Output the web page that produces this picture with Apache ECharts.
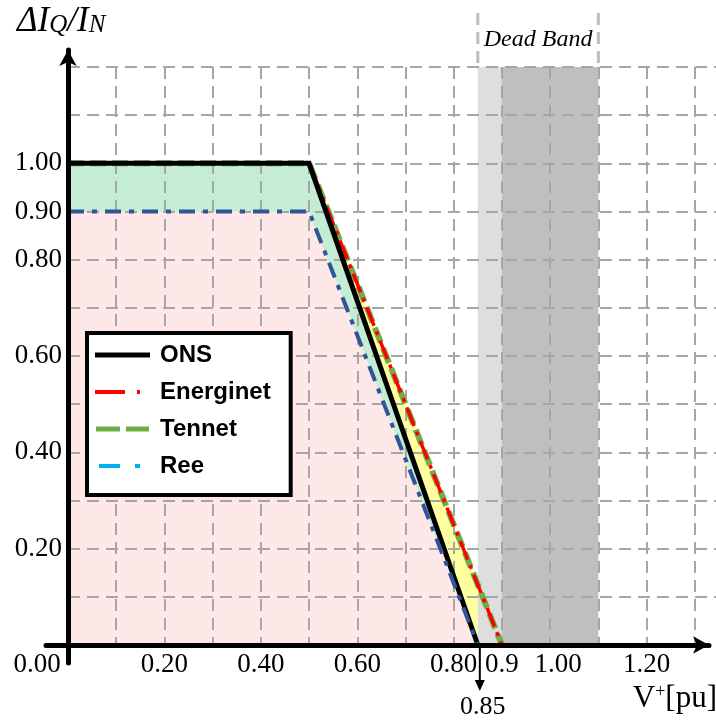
<!DOCTYPE html>
<html><head><meta charset="utf-8">
<script src="https://cdn.jsdelivr.net/npm/echarts@6/dist/echarts.min.js"></script>
<style>html,body{margin:0;padding:0;background:#fff}#c{width:716px;height:721px}</style>
</head><body><div id="c"></div>
<script>
// ---- data ----
const onsCurve = [[0, 1.0], [0.5, 1.0], [0.85, 0]];
const energinetCurve = [[0, 1.0], [0.5, 1.0], [0.9, 0]];
const tennetCurve = [[0, 1.0], [0.5, 1.0], [0.9, 0]];
const reeCurve = [[0, 0.9], [0.5, 0.9], [0.85, 0]];
const lightBand = [0.85, 0.9];
const darkBand = [0.9, 1.1];
const deadBand = [0.85, 1.1];
const markerValue = [0.85];
const xTickLabels = [0, 0.2, 0.4, 0.6, 0.8, 0.9, 1.0, 1.2];
const yTickLabels = [0.2, 0.4, 0.6, 0.8, 0.9, 1.0];
const seriesNames = ['ONS', 'Energinet', 'Tennet', 'Ree'];
const yTop = 1.2;

const serif = '"Liberation Serif", "Times New Roman", serif';
const sans = '"Liberation Sans", Arial, sans-serif';
const gridLine = { show: true, showMaxLine: false, lineStyle: { color: '#a6a6a6', width: 2, type: [12, 7] } };

// legend icon shapes (anchored to a 60x5 box)
const anchor = ' M0,0h0.01v0.01z M60,5h-0.01v-0.01z';
const icons = {
  ONS: 'path://M0,0h55v5h-55z' + anchor,
  Energinet: 'path://M0,0.5h30v4h-30z M42,0.5h3v4h-3z' + anchor,
  Tennet: 'path://M1,0h24v5h-24z M31,0h23v5h-23z' + anchor,
  Ree: 'path://M4,0.5h21v4h-21z M40,0.5h5v4h-5z' + anchor
};

const chart = echarts.init(document.getElementById('c'), null, { renderer: 'canvas' });

function xFmt(v) {
  if (Math.abs(v) < 1e-9) return '{l|0.00}';
  if (Math.abs(v - 0.9) < 1e-9) return '0.9';
  if (Math.abs(v - 1.0) < 1e-9) return '{r|1.00}';
  return v.toFixed(2);
}

const option = {
  animation: false,
  backgroundColor: '#fff',
  grid: [
    { left: 68, top: 67, right: 0, bottom: 76 },
    { left: 46, top: 50, right: 7, bottom: 58 }
  ],
  xAxis: [
    {
      gridIndex: 0, type: 'value', min: 0, max: 1.344, interval: 0.1, z: 3,
      axisLine: { show: false }, axisTick: { show: false },
      splitLine: gridLine,
      axisLabel: {
        customValues: xTickLabels, color: '#000', fontFamily: serif, fontSize: 27, margin: 6,
        formatter: xFmt,
        rich: {
          l: { fontFamily: serif, fontSize: 27, color: '#000', padding: [0, 62, 0, 0] },
          r: { fontFamily: serif, fontSize: 27, color: '#000', padding: [0, 0, 0, 16] }
        }
      }
    },
    {
      gridIndex: 1, type: 'value', min: -0.0456, max: 1.33, z: 6,
      axisLine: { show: true, onZero: true, lineStyle: { color: '#000', width: 5 }, symbol: ['none', 'arrow'], symbolSize: [13, 16] },
      axisTick: { show: false }, axisLabel: { show: false }, splitLine: { show: false }
    }
  ],
  yAxis: [
    {
      gridIndex: 0, type: 'value', min: 0, max: yTop, interval: 0.1, z: 3,
      axisLine: { show: false }, axisTick: { show: false },
      splitLine: Object.assign({}, gridLine, { showMaxLine: true, showMinLine: false }),
      axisLabel: {
        customValues: yTickLabels, color: '#000', fontFamily: serif, fontSize: 27, margin: 6,
        formatter: v => v.toFixed(2)
      }
    },
    {
      gridIndex: 1, type: 'value', min: -0.0373, max: 1.234, z: 6,
      axisLine: { show: true, onZero: true, lineStyle: { color: '#000', width: 5 }, symbol: ['none', 'arrow'], symbolSize: [13, 16] },
      axisTick: { show: false }, axisLabel: { show: false }, splitLine: { show: false }
    }
  ],
  legend: {
    orient: 'vertical', left: 87, top: 333,
    data: seriesNames.map(n => n === 'Ree'
      ? { name: n, icon: icons[n], itemStyle: { color: '#00b0f0' } }
      : { name: n, icon: icons[n] }),
    itemWidth: 60, itemHeight: 5, itemGap: 13,
    backgroundColor: '#fff', borderColor: '#000', borderWidth: 4, borderRadius: 0,
    padding: [10, 20, 17, 8],
    selectedMode: false,
    textStyle: { fontFamily: sans, fontWeight: 'bold', fontSize: 24, color: '#000' }
  },
  graphic: [
    {
      type: 'text', left: 17, top: 4,
      style: {
        text: '{i|ΔI}{s|Q}{i|/I}{s|N}',
        rich: {
          i: { fontFamily: serif, fontStyle: 'italic', fontSize: 35, lineHeight: 32, fill: '#000', verticalAlign: 'middle' },
          s: { fontFamily: serif, fontStyle: 'italic', fontSize: 25, lineHeight: 12, fill: '#000', verticalAlign: 'bottom' }
        }
      }
    },
    {
      type: 'text', right: -1, top: 683,
      style: {
        text: 'V{s|+}[pu]',
        font: '31px ' + serif, fill: '#000',
        rich: {
          s: { fontFamily: serif, fontSize: 18, fill: '#000', verticalAlign: 'top', lineHeight: 14 }
        }
      }
    }
  ],
  series: [
    { name: 'fillTennet', type: 'line', data: tennetCurve, symbol: 'none', silent: true, z: 1,
      lineStyle: { width: 0 }, areaStyle: { color: '#ffffa0', opacity: 1 } },
    { name: 'fillONS', type: 'line', data: onsCurve, symbol: 'none', silent: true, z: 1,
      lineStyle: { width: 0 }, areaStyle: { color: '#c5ecd5', opacity: 1 } },
    { name: 'fillRee', type: 'line', data: reeCurve, symbol: 'none', silent: true, z: 1,
      lineStyle: { width: 0 }, areaStyle: { color: '#fde7e7', opacity: 1 } },
    {
      name: 'bands', type: 'custom', z: 1, silent: true, clip: false,
      data: [lightBand.concat([0]), darkBand.concat([1])],
      renderItem: function (params, api) {
        const a = api.coord([api.value(0), yTop]);
        const b = api.coord([api.value(1), 0]);
        return { type: 'rect', shape: { x: a[0], y: a[1], width: b[0] - a[0], height: b[1] - a[1] },
          style: { fill: api.value(2) === 0 ? '#dedede' : '#bfbfbf' } };
      }
    },
    {
      name: 'deadBand', type: 'custom', z: 2, silent: true, clip: false,
      data: [deadBand],
      renderItem: function (params, api) {
        const a = api.coord([api.value(0), yTop]);
        const b = api.coord([api.value(1), yTop]);
        const top = a[1] - 54;
        const st = { stroke: '#bdbdbd', lineWidth: 3, lineDash: [12, 7] };
        return { type: 'group', children: [
          { type: 'line', shape: { x1: a[0], y1: top, x2: a[0], y2: a[1] }, style: st },
          { type: 'line', shape: { x1: b[0], y1: top, x2: b[0], y2: b[1] }, style: st },
          { type: 'text', style: { text: 'Dead Band', x: (a[0] + b[0]) / 2, y: top + 27, align: 'center', verticalAlign: 'middle',
            font: 'italic 24px ' + serif, fill: '#000' } }
        ] };
      }
    },
    {
      name: 'marker', type: 'custom', z: 7, silent: true, clip: false,
      data: markerValue.map(v => [v]),
      renderItem: function (params, api) {
        const v = api.value(0);
        const p = api.coord([v, 0]);
        const x = p[0] + 2, y = p[1];
        return { type: 'group', children: [
          { type: 'line', shape: { x1: x, y1: y, x2: x, y2: y + 38 }, style: { stroke: '#000', lineWidth: 2 } },
          { type: 'polygon', shape: { points: [[x - 5, y + 35], [x + 5, y + 35], [x, y + 46]] }, style: { fill: '#000' } },
          { type: 'text', style: { text: v.toFixed(2), x: x + 3, y: y + 62, align: 'center', verticalAlign: 'middle',
            font: '26px ' + serif, fill: '#000' } }
        ] };
      }
    },
    { name: 'Tennet', type: 'line', data: tennetCurve, symbol: 'none', z: 4,
      lineStyle: { color: '#70ad47', width: 6, type: [16, 6] }, itemStyle: { color: '#70ad47' } },
    { name: 'Energinet', type: 'line', data: energinetCurve, symbol: 'none', z: 4,
      lineStyle: { color: '#ff0000', width: 3.5, type: [20, 6, 4, 6] }, itemStyle: { color: '#ff0000' } },
    { name: 'ONS', type: 'line', data: onsCurve, symbol: 'none', z: 5,
      lineStyle: { color: '#000', width: 5, join: 'miter' }, itemStyle: { color: '#000' } },
    { name: 'Ree', type: 'line', data: reeCurve, symbol: 'none', z: 5,
      lineStyle: { color: '#2f5597', width: 4, type: [16, 8, 5, 8] }, itemStyle: { color: '#2f5597' } }
  ]
};
chart.setOption(option);
</script>
</body></html>
